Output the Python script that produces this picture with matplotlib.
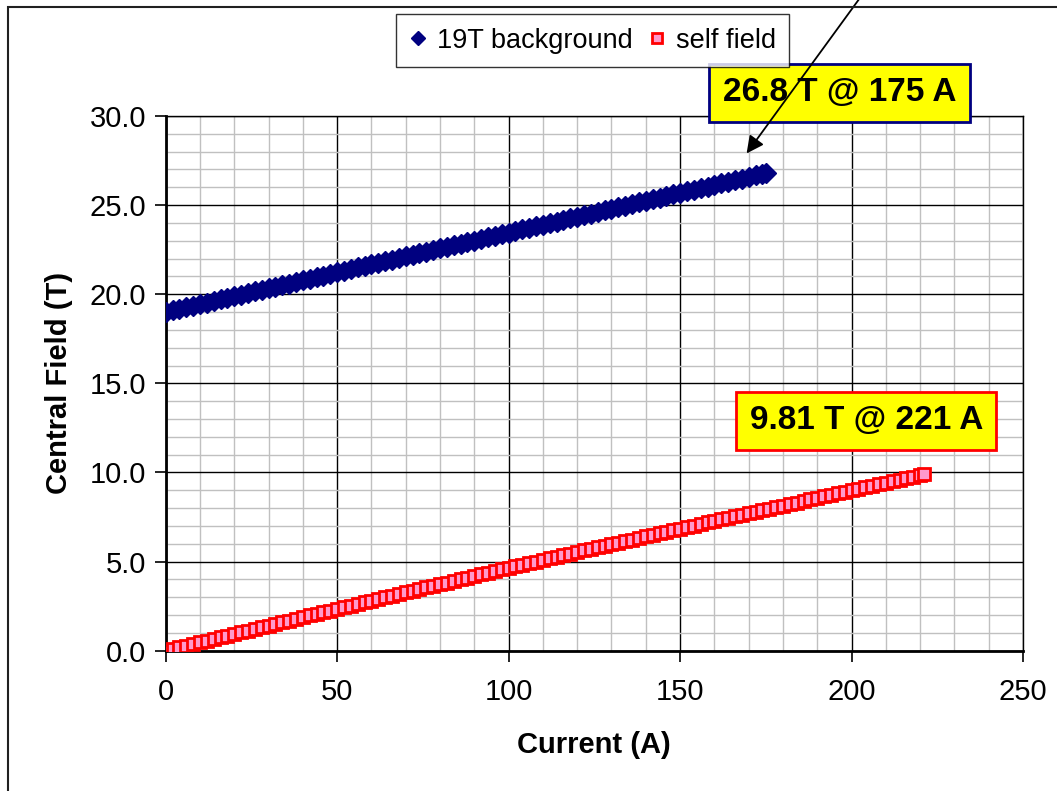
import matplotlib
matplotlib.use("Agg")
import matplotlib.pyplot as plt
from matplotlib.patches import Rectangle
from matplotlib.ticker import MultipleLocator, FormatStrFormatter

plt.rcParams['font.family'] = ['Liberation Sans', 'DejaVu Sans']

# 19T background run (current in A, central field in T)
bg_current = [0, 2, 4, 6, 8, 10, 12, 14, 16, 18, 20, 22, 24, 26, 28, 30, 32, 34, 36, 38,
              40, 42, 44, 46, 48, 50, 52, 54, 56, 58, 60, 62, 64, 66, 68, 70, 72, 74, 76, 78,
              80, 82, 84, 86, 88, 90, 92, 94, 96, 98, 100, 102, 104, 106, 108, 110, 112, 114,
              116, 118, 120, 122, 124, 126, 128, 130, 132, 134, 136, 138, 140, 142, 144, 146,
              148, 150, 152, 154, 156, 158, 160, 162, 164, 166, 168, 170, 172, 174, 175]
bg_field = [19.00, 19.09, 19.18, 19.27, 19.36, 19.45, 19.53, 19.62, 19.71, 19.80,
            19.89, 19.98, 20.07, 20.16, 20.25, 20.34, 20.43, 20.52, 20.60, 20.69,
            20.78, 20.87, 20.96, 21.05, 21.14, 21.23, 21.32, 21.41, 21.50, 21.59,
            21.67, 21.76, 21.85, 21.94, 22.03, 22.12, 22.21, 22.30, 22.39, 22.48,
            22.57, 22.65, 22.74, 22.83, 22.92, 23.01, 23.10, 23.19, 23.28, 23.37,
            23.46, 23.55, 23.64, 23.72, 23.81, 23.90, 23.99, 24.08, 24.17, 24.26,
            24.35, 24.44, 24.53, 24.62, 24.70, 24.79, 24.88, 24.97, 25.06, 25.15,
            25.24, 25.33, 25.42, 25.51, 25.60, 25.69, 25.77, 25.86, 25.95, 26.04,
            26.13, 26.22, 26.31, 26.40, 26.49, 26.58, 26.67, 26.76, 26.80]

# self field run
sf_current = [0, 2, 4, 6, 8, 10, 12, 14, 16, 18, 20, 22, 24, 26, 28, 30, 32, 34, 36, 38,
              40, 42, 44, 46, 48, 50, 52, 54, 56, 58, 60, 62, 64, 66, 68, 70, 72, 74, 76, 78,
              80, 82, 84, 86, 88, 90, 92, 94, 96, 98, 100, 102, 104, 106, 108, 110, 112, 114,
              116, 118, 120, 122, 124, 126, 128, 130, 132, 134, 136, 138, 140, 142, 144, 146,
              148, 150, 152, 154, 156, 158, 160, 162, 164, 166, 168, 170, 172, 174, 176, 178,
              180, 182, 184, 186, 188, 190, 192, 194, 196, 198, 200, 202, 204, 206, 208, 210,
              212, 214, 216, 218, 220, 221]
sf_field = [0.00, 0.09, 0.19, 0.28, 0.37, 0.47, 0.56, 0.66, 0.75, 0.84,
            0.94, 1.03, 1.12, 1.22, 1.31, 1.40, 1.50, 1.59, 1.68, 1.78,
            1.87, 1.97, 2.06, 2.15, 2.25, 2.34, 2.43, 2.52, 2.62, 2.71,
            2.80, 2.90, 2.99, 3.08, 3.17, 3.27, 3.36, 3.45, 3.55, 3.64,
            3.73, 3.82, 3.92, 4.01, 4.10, 4.19, 4.29, 4.38, 4.47, 4.56,
            4.65, 4.74, 4.83, 4.91, 5.00, 5.09, 5.18, 5.27, 5.35, 5.44,
            5.53, 5.62, 5.71, 5.79, 5.88, 5.97, 6.06, 6.15, 6.23, 6.32,
            6.41, 6.50, 6.59, 6.67, 6.76, 6.85, 6.94, 7.02, 7.11, 7.19,
            7.28, 7.37, 7.45, 7.54, 7.62, 7.71, 7.79, 7.88, 7.96, 8.05,
            8.14, 8.22, 8.31, 8.39, 8.48, 8.57, 8.65, 8.74, 8.82, 8.91,
            8.99, 9.08, 9.17, 9.25, 9.34, 9.42, 9.51, 9.59, 9.68, 9.77,
            9.85, 9.90]

series_labels = ["19T background", "self field"]
bg_note = "26.8 T @ 175 A"
sf_note = "9.81 T @ 221 A"

fig = plt.figure(figsize=(10.57, 7.91), dpi=100)
ax = fig.add_axes([0.1568, 0.1775, 0.9678 - 0.1568, 0.8533 - 0.1775])

# chart area border (Excel style)
fig.add_artist(Rectangle((8 / 1057, -0.1), 1.2, (791 - 7) / 791 + 0.1,
                         transform=fig.transFigure, fill=False,
                         edgecolor='#202020', lw=1.5))

ax.plot(bg_current, bg_field, linestyle='none', marker='D', ms=10.5,
        color='#000080', mec='#000080', label=series_labels[0], zorder=3)
ax.plot(sf_current, sf_field, linestyle='none', marker='s', ms=8.5,
        mfc='#FF99CC', mec='#FF0000', mew=2, label=series_labels[1], zorder=3)

ax.set_xlim(0, 250)
ax.set_ylim(0, 30)
ax.xaxis.set_major_locator(MultipleLocator(50))
ax.xaxis.set_minor_locator(MultipleLocator(10))
ax.yaxis.set_major_locator(MultipleLocator(5))
ax.yaxis.set_minor_locator(MultipleLocator(1))
ax.yaxis.set_major_formatter(FormatStrFormatter('%.1f'))

ax.grid(which='minor', color='#c0c0c0', lw=1.0)
ax.grid(which='major', color='#000000', lw=1.0)
ax.set_axisbelow(True)

ax.tick_params(which='major', direction='out', length=8, width=1.2,
               labelsize=21, pad=6)
ax.tick_params(axis='x', which='major', pad=12)
ax.tick_params(which='minor', length=0)
for side in ['left', 'bottom']:
    ax.spines[side].set_linewidth(2)
for side in ['top', 'right']:
    ax.spines[side].set_linewidth(1)

ax.set_xlabel('Current (A)', fontsize=21, fontweight='bold', labelpad=18)
ax.set_ylabel('Central Field (T)', fontsize=21, fontweight='bold', labelpad=12)

leg = ax.legend(loc='upper left', bbox_to_anchor=(396 / 1057, 1 - 14 / 791),
                bbox_transform=fig.transFigure, ncol=2, fontsize=19.5,
                frameon=True, fancybox=False, edgecolor='black',
                handlelength=0.6, handletextpad=0.4, columnspacing=0.6,
                borderpad=0.5, borderaxespad=0)
leg.get_frame().set_linewidth(1.0)
for h in leg.legend_handles:
    h.set_markersize(7.5)

# callout boxes
ax.text(bg_current[-1] + 21.5, bg_field[-1] + 4.5, bg_note, fontsize=24,
        fontweight='bold', ha='center', va='center', zorder=5,
        bbox=dict(boxstyle='square,pad=0.4', fc='#FFFF00', ec='#000080', lw=2),
        clip_on=False)
ax.text(sf_current[-1] - 16.7, sf_field[-1] + 3.0, sf_note, fontsize=24,
        fontweight='bold', ha='center', va='center', zorder=5,
        bbox=dict(boxstyle='square,pad=0.4', fc='#FFFF00', ec='#FF0000', lw=2),
        clip_on=False)

# arrow pointing at the end of the background run
ax.annotate('', xy=(bg_current[-1] - 5.6, bg_field[-1] + 1.1),
            xytext=(bg_current[-1] + 30, bg_field[-1] + 10.5),
            arrowprops=dict(arrowstyle='-|>', color='black', lw=1.3,
                            mutation_scale=26, shrinkA=0, shrinkB=0),
            annotation_clip=False, zorder=6)

fig.savefig('out.png', dpi=100, facecolor='white')
